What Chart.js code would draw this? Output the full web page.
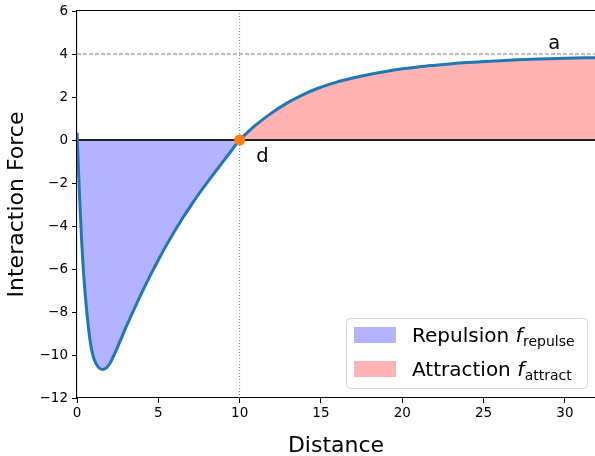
<!DOCTYPE html>
<html><head><meta charset="utf-8">
<script src="https://cdn.jsdelivr.net/npm/chart.js@4/dist/chart.umd.min.js"></script>
<style>html,body{margin:0;padding:0;background:#fff;} #wrap{width:595px;height:456px;position:relative;}</style>
</head><body><div id="wrap"><canvas id="c" width="595" height="456"></canvas></div>
<script>
const distance = [0, 0.1, 0.2, 0.3, 0.4, 0.5, 0.6, 0.7, 0.8, 0.9, 1.05, 1.3, 1.56, 1.8, 2, 2.5, 3, 3.5, 4, 4.5, 5, 5.5, 6, 6.5, 7, 7.5, 8, 8.5, 9, 9.5, 10,
  10.5, 11, 11.82, 12.85, 13.87, 14.9, 15.92, 16.94, 17.97, 18.99, 20.02, 21.04, 22.07, 24, 26, 28, 30, 31.85];
const force = [0.35, -1.58, -3.35, -4.9, -6.15, -7.15, -7.98, -8.7, -9.3, -9.75, -10.2, -10.55, -10.68, -10.6, -10.42, -9.62, -8.73, -7.89, -7.08, -6.31, -5.58, -4.89, -4.24, -3.63, -3.05, -2.5, -1.98, -1.48, -0.98, -0.49, 0,
  0.37, 0.7, 1.18, 1.69, 2.1, 2.43, 2.68, 2.88, 3.05, 3.19, 3.31, 3.41, 3.48, 3.6, 3.69, 3.76, 3.8, 3.83];
const xTicks = [0, 5, 10, 15, 20, 25, 30];
const yTicks = [-12, -10, -8, -6, -4, -2, 0, 2, 4, 6];
const xRange = [0, 31.85];
const yRange = [-12, 6];
const asymptoteA = 4;
const crossingD = 10;
const legendLabels = ['Repulsion', 'Attraction'];
const legendSubs = ['repulse', 'attract'];

const FONT = "'DejaVu Sans', sans-serif";
Chart.defaults.font.family = FONT;
Chart.defaults.color = '#000';

const pts = distance.map((x, i) => ({x: x, y: force[i]}));
const repulsePts = pts.filter(p => p.x <= crossingD);
const attractPts = pts.filter(p => p.x >= crossingD);

const fillBlue = 'rgb(179,179,255)';
const fillRed = 'rgb(255,179,179)';

const extras = {
  id: 'extras',
  afterDatasetsDraw(chart) {
    const ctx = chart.ctx, ca = chart.chartArea;
    const xs = chart.scales.x, ys = chart.scales.y;
    ctx.save();
    // top spine
    ctx.strokeStyle = '#000'; ctx.lineWidth = 1.2;
    ctx.beginPath(); ctx.moveTo(ca.left, ca.top - 0.5); ctx.lineTo(ca.right, ca.top - 0.5); ctx.stroke();
    // annotations
    ctx.fillStyle = '#000';
    ctx.font = '19.5px ' + FONT;
    ctx.textAlign = 'center'; ctx.textBaseline = 'alphabetic';
    ctx.fillText('a', xs.getPixelForValue(29.35), ys.getPixelForValue(asymptoteA + 0.25));
    ctx.fillText('d', xs.getPixelForValue(crossingD + 1.4), ys.getPixelForValue(-1.03));
    // legend
    const bx = ca.right - 249, by = ca.bottom - 80, bw = 241, bh = 70;
    ctx.fillStyle = 'rgba(255,255,255,0.85)';
    ctx.strokeStyle = '#d4d4d4'; ctx.lineWidth = 1;
    ctx.beginPath();
    if (ctx.roundRect) ctx.roundRect(bx + 0.5, by + 0.5, bw, bh, 4); else ctx.rect(bx + 0.5, by + 0.5, bw, bh);
    ctx.fill(); ctx.stroke();
    const cols = [fillBlue, fillRed];
    for (let i = 0; i < 2; i++) {
      const rowTop = by + 9 + i * 34;
      ctx.fillStyle = cols[i];
      ctx.fillRect(bx + 8, rowTop, 42, 16);
      const base = rowTop + 15;
      ctx.fillStyle = '#000';
      ctx.textAlign = 'left'; ctx.textBaseline = 'alphabetic';
      ctx.font = '20px ' + FONT;
      let tx = bx + 66;
      const t1 = legendLabels[i] + ' ';
      ctx.fillText(t1, tx, base);
      tx += ctx.measureText(t1).width;
      ctx.font = 'italic 20px ' + FONT;
      ctx.fillText('f', tx, base);
      tx += ctx.measureText('f').width + 0.5;
      ctx.font = '14px ' + FONT;
      ctx.fillText(legendSubs[i], tx, base + 3.5);
    }
    ctx.restore();
  }
};

const fmt = v => String(v).replace('-', '\u2212');

new Chart(document.getElementById('c'), {
  type: 'scatter',
  data: {
    datasets: [
      {data: [{x: crossingD, y: 0}], pointRadius: 5.5, pointBackgroundColor: '#ff7f0e', pointBorderWidth: 0, showLine: false, order: 0},
      {data: pts, showLine: true, borderColor: '#1f77b4', borderWidth: 3, pointRadius: 0, cubicInterpolationMode: 'monotone', fill: false, order: 1},
      {data: [{x: xRange[0], y: 0}, {x: xRange[1], y: 0}], showLine: true, borderColor: '#222', borderWidth: 2, pointRadius: 0, order: 2},
      {data: [{x: xRange[0], y: asymptoteA}, {x: xRange[1], y: asymptoteA}], showLine: true, borderColor: '#808080', borderWidth: 1.1, borderDash: [4, 2], pointRadius: 0, order: 3},
      {data: [{x: crossingD, y: yRange[0]}, {x: crossingD, y: yRange[1]}], showLine: true, borderColor: '#808080', borderWidth: 1, borderDash: [1, 2], pointRadius: 0, order: 4},
      {data: repulsePts, showLine: true, borderWidth: 0, borderColor: 'rgba(0,0,0,0)', backgroundColor: fillBlue, fill: 'origin', pointRadius: 0, cubicInterpolationMode: 'monotone', order: 5},
      {data: attractPts, showLine: true, borderWidth: 0, borderColor: 'rgba(0,0,0,0)', backgroundColor: fillRed, fill: 'origin', pointRadius: 0, cubicInterpolationMode: 'monotone', order: 6}
    ]
  },
  options: {
    responsive: false, animation: false, devicePixelRatio: 1,
    layout: {autoPadding: false, padding: {top: 11, right: 0, left: 0, bottom: 0}},
    plugins: {legend: {display: false}, tooltip: {enabled: false}},
    scales: {
      x: {
        type: 'linear', min: xRange[0], max: xRange[1],
        afterBuildTicks: s => { s.ticks = xTicks.map(v => ({value: v})); },
        afterFit: s => { s.height = 58; s.paddingLeft = 0; s.paddingRight = 0; },
        ticks: {font: {size: 13.5}, color: '#000', padding: 2, maxRotation: 0, autoSkip: false, callback: fmt},
        grid: {display: true, drawOnChartArea: false, drawTicks: true, tickLength: 5, tickColor: '#000', tickWidth: 1},
        border: {display: true, color: '#000', width: 1.1},
        title: {display: true, text: 'Distance', font: {size: 22, lineHeight: 0.9}, color: '#000', padding: {top: 0, bottom: 0}}
      },
      y: {
        type: 'linear', min: yRange[0], max: yRange[1],
        afterBuildTicks: s => { s.ticks = yTicks.map(v => ({value: v})); },
        afterFit: s => { s.width = 77; s.paddingTop = 0; s.paddingBottom = 0; },
        ticks: {font: {size: 13.5}, color: '#000', padding: 4, autoSkip: false, callback: fmt},
        grid: {display: true, drawOnChartArea: false, drawTicks: true, tickLength: 5, tickColor: '#000', tickWidth: 1},
        border: {display: true, color: '#000', width: 1.1},
        title: {display: true, text: 'Interaction Force', font: {size: 22, lineHeight: 1.1}, color: '#000', padding: {top: 5, bottom: 0}}
      }
    }
  },
  plugins: [extras]
});
</script>
</body></html>
